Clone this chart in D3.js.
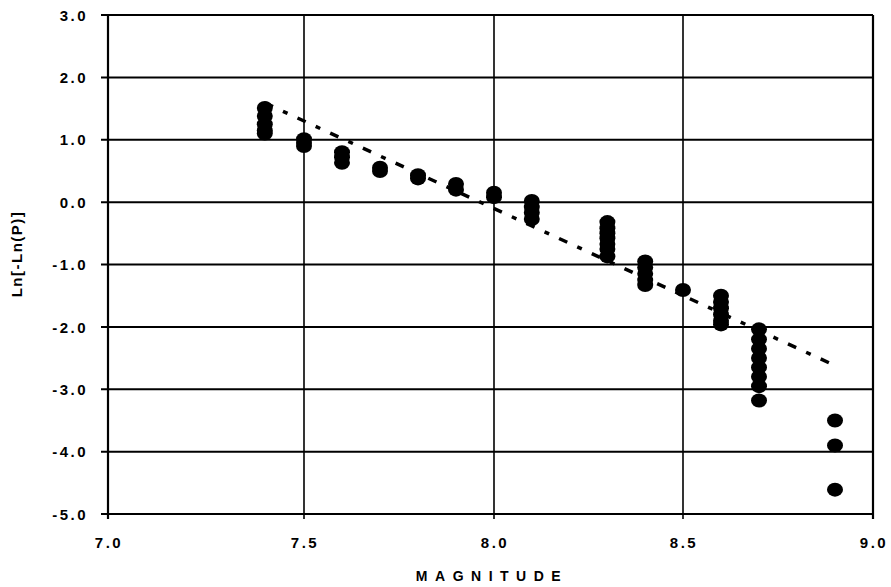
<!DOCTYPE html>
<html>
<head>
<meta charset="utf-8">
<script src="https://cdn.jsdelivr.net/npm/d3@7"></script>
<style>
  body { margin: 0; background: #fff; }
  text { font-family: "Liberation Sans", Arial, sans-serif; font-weight: bold; fill: #000; }
</style>
</head>
<body>
<div id="chart"></div>
<script>
// magnitude of each column of points
const magnitudes = [7.4, 7.5, 7.6, 7.7, 7.8, 7.9, 8.0, 8.1, 8.3, 8.4, 8.5, 8.6, 8.7, 8.9];
// Ln[-Ln(P)] values stacked in each column
const values = [
  [1.51, 1.38, 1.25, 1.15, 1.1],
  [1.01, 0.95, 0.9],
  [0.8, 0.72, 0.63],
  [0.55, 0.5],
  [0.43, 0.38],
  [0.29, 0.2],
  [0.15, 0.08],
  [0.02, -0.08, -0.17, -0.27],
  [-0.32, -0.42, -0.5, -0.58, -0.67, -0.75, -0.87],
  [-0.95, -1.05, -1.15, -1.25, -1.33],
  [-1.41],
  [-1.5, -1.6, -1.7, -1.8, -1.9, -1.96],
  [-2.04, -2.2, -2.35, -2.5, -2.65, -2.8, -2.95, -3.18],
  [-3.5, -3.9, -4.61]
];
// dashed trend line end points
const trendX = [7.4, 8.9];
const trendY = [1.59, -2.62];

const xTicks = [7.0, 7.5, 8.0, 8.5, 9.0];
const yTicks = [3, 2, 1, 0, -1, -2, -3, -4, -5];

const width = 891, height = 587;

const svg = d3.select("#chart").append("svg")
  .attr("width", width)
  .attr("height", height);

// the scanned original is slightly uneven, so the x scale is piecewise
const x = d3.scaleLinear().domain(xTicks).range([108, 304, 494, 683, 873]);
const y = d3.scaleLinear().domain([-5, 3]).range([514, 15]);

// horizontal grid lines, with short ticks left of the axis
svg.append("g")
  .selectAll("line")
  .data(yTicks)
  .join("line")
    .attr("x1", x(7) - 7)
    .attr("x2", x(9))
    .attr("y1", d => y(d))
    .attr("y2", d => y(d))
    .attr("stroke", "#000")
    .attr("stroke-width", 2);

// vertical grid lines (and box sides), with short ticks under the axis
svg.append("g")
  .selectAll("line")
  .data(xTicks)
  .join("line")
    .attr("x1", d => x(d))
    .attr("x2", d => x(d))
    .attr("y1", y(3))
    .attr("y2", y(-5) + 5)
    .attr("stroke", "#000")
    .attr("stroke-width", d => (d === 7 || d === 9) ? 2.2 : 1.6);

// y tick labels
svg.append("g")
  .selectAll("text")
  .data(yTicks)
  .join("text")
    .attr("x", 88)
    .attr("y", d => y(d))
    .attr("dy", "0.38em")
    .attr("text-anchor", "end")
    .style("font-size", "15px")
    .style("letter-spacing", "2.5px")
    .text(d => d3.format(".1f")(d).replace("−", "-"));

// x tick labels
svg.append("g")
  .selectAll("text")
  .data(xTicks)
  .join("text")
    .attr("x", d => x(d) + 1)
    .attr("y", y(-5) + 34)
    .attr("text-anchor", "middle")
    .style("font-size", "15px")
    .style("letter-spacing", "2.5px")
    .text(d => d3.format(".1f")(d));

// axis titles
svg.append("text")
  .attr("x", 492)
  .attr("y", 581)
  .attr("text-anchor", "middle")
  .style("font-size", "14px")
  .style("letter-spacing", "7.5px")
  .text("MAGNITUDE");

svg.append("text")
  .attr("transform", `translate(22,254) rotate(-90)`)
  .attr("text-anchor", "middle")
  .style("font-size", "15px")
  .style("letter-spacing", "1.5px")
  .text("Ln[-Ln(P)]");

// trend line
svg.append("line")
  .attr("x1", x(trendX[0]))
  .attr("y1", y(trendY[0]))
  .attr("x2", x(trendX[1]))
  .attr("y2", y(trendY[1]))
  .attr("stroke", "#000")
  .attr("stroke-width", 3.5)
  .attr("stroke-dasharray", "9,11,5,11");

// data points
const points = magnitudes.flatMap((m, i) => values[i].map(v => ({ m, v })));
svg.append("g")
  .selectAll("ellipse")
  .data(points)
  .join("ellipse")
    .attr("cx", d => x(d.m))
    .attr("cy", d => y(d.v))
    .attr("rx", 8)
    .attr("ry", 7)
    .attr("fill", "#000");
</script>
</body>
</html>
